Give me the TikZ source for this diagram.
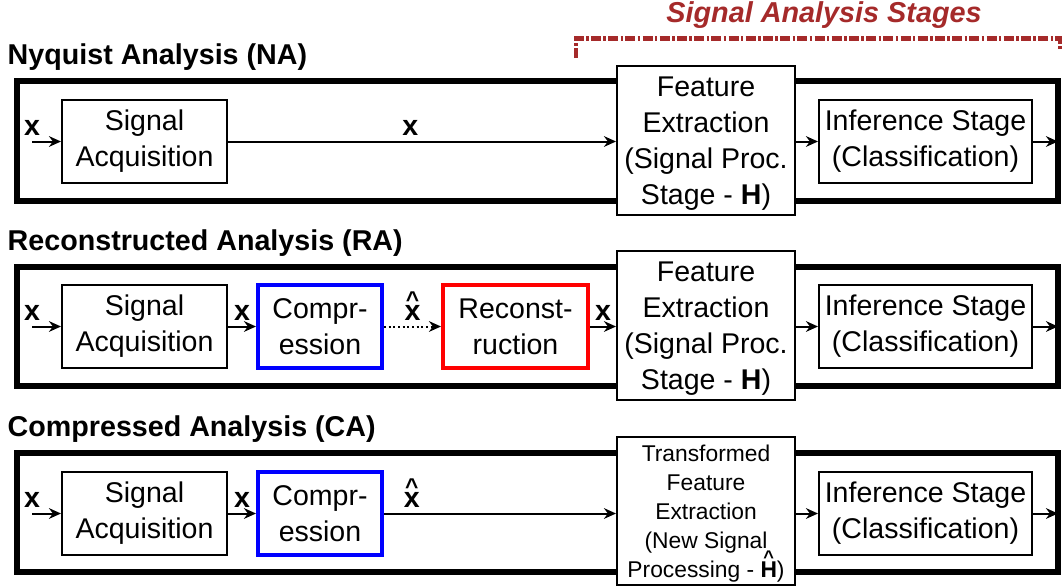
\documentclass[tikz,border=0pt]{standalone}
\usepackage{fontspec}
\setmainfont{Liberation Sans}
\usepackage{xcolor}
\usepackage{graphicx}
\usetikzlibrary{positioning,arrows.meta}
\definecolor{stagered}{HTML}{A52A2A}
\definecolor{compblue}{HTML}{0000FF}
\definecolor{recred}{HTML}{FF0000}
\newlength{\hatht}
\newcommand{\hatted}[1]{\settoheight{\hatht}{#1}\ooalign{#1\cr\hidewidth\raisebox{\dimexpr\hatht-0.09em\relax}{\scalebox{0.8}{\textasciicircum}}\hidewidth\cr}}

\begin{document}
\begin{tikzpicture}[x=0.75pt,y=-0.75pt,
    every node/.style={font=\fontsize{21.4}{27}\selectfont},
    blk/.style={draw,line width=1.5pt,fill=white,inner sep=0pt,align=center,minimum height=62.25pt},
    acqbox/.style={blk,minimum width=123.75pt},
    infbox/.style={blk,minimum width=159.75pt},
    featbox/.style={blk,minimum width=133.5pt,minimum height=111.75pt,text depth=0pt},
    compbox/.style={blk,draw=compblue,line width=3pt,minimum width=93pt},
    recbox/.style={blk,draw=recred,line width=3pt,minimum width=108.75pt},
    outerbox/.style={line width=4.5pt},
    title/.style={anchor=west,font=\fontsize{21.5}{26}\selectfont\bfseries},
    lbl/.style={font=\fontsize{21.4}{26}\selectfont\bfseries,inner sep=1pt},
    arr/.style={line width=1.5pt,-{Stealth[length=9pt,width=8pt]}}]
    \useasboundingbox (0,0) rectangle (1063,586);
    % signal analysis stages bracket
    \node[font=\fontsize{21.6}{26}\selectfont\bfseries\itshape,text=stagered] (stages) at (824,15) {Signal Analysis Stages};
    \draw[stagered,line width=3.5pt,dash pattern=on 7.5pt off 1.8pt on 1.8pt off 1.8pt] (576,58) -- (576,38.5) -- (1060,38.5) -- (1060,50);
    % Nyquist analysis
    \node[title] (tNA) at (3,57) {Nyquist Analysis (NA)};
    \draw[outerbox] (17,81) rectangle (1058,201);
    \node[acqbox] (acqNA) at (144.5,141.5) {Signal\\Acquisition};
    \node[featbox] (featNA) at (706,140.5) {Feature\\Extraction\\(Signal Proc.\\Stage - \textbf{H})};
    \node[infbox] (infNA) at (925.5,141.5) {Inference Stage\\(Classification)};
    \coordinate (inNA) at (32,141.5);
    \coordinate (outNA) at (1058,141.5);
    \draw[arr] (inNA) -- node[lbl,pos=0,above=3pt]{x} (acqNA.west);
    \draw[arr] (acqNA.east) -- node[lbl,pos=0.47,above=3pt]{x} (featNA.west |- acqNA.east);
    \draw[arr] (featNA.east |- infNA.west) -- (infNA.west);
    \draw[arr] (infNA.east) -- (outNA);
    % Reconstructed analysis
    \node[title] (tRA) at (3,243) {Reconstructed Analysis (RA)};
    \draw[outerbox] (17,267) rectangle (1058,386);
    \node[acqbox] (acqRA) at (144.5,326.5) {Signal\\Acquisition};
    \node[compbox] (compRA) at (320,326.5) {Compr-\\ession};
    \node[recbox] (recRA) at (515.5,326.5) {Reconst-\\ruction};
    \node[featbox] (featRA) at (706,325.5) {Feature\\Extraction\\(Signal Proc.\\Stage - \textbf{H})};
    \node[infbox] (infRA) at (925.5,326.5) {Inference Stage\\(Classification)};
    \coordinate (inRA) at (32,326.5);
    \coordinate (outRA) at (1058,326.5);
    \draw[arr] (inRA) -- node[lbl,pos=0,above=3pt]{x} (acqRA.west);
    \draw[arr] (acqRA.east) -- node[lbl,above=3pt]{x} (compRA.west);
    \draw[arr,dotted] (compRA.east) -- node[lbl,above=3pt]{\hatted{x}} (recRA.west);
    \draw[arr] (recRA.east) -- node[lbl,above=3pt]{x} (featRA.west |- recRA.east);
    \draw[arr] (featRA.east |- infRA.west) -- (infRA.west);
    \draw[arr] (infRA.east) -- (outRA);
    % Compressed analysis
    \node[title] (tCA) at (3,429) {Compressed Analysis (CA)};
    \draw[outerbox] (17,453) rectangle (1058,572);
    \node[acqbox] (acqCA) at (144.5,513.5) {Signal\\Acquisition};
    \node[compbox] (compCA) at (320,513.5) {Compr-\\ession};
    \node[featbox,minimum height=111pt,font=\fontsize{17.1}{21.75}\selectfont] (featCA) at (706,511) {Transformed\\Feature\\Extraction\\(New Signal\\Processing - \textbf{\hatted{H}})};
    \node[infbox] (infCA) at (925.5,513.5) {Inference Stage\\(Classification)};
    \coordinate (inCA) at (32,513.5);
    \coordinate (outCA) at (1058,513.5);
    \draw[arr] (inCA) -- node[lbl,pos=0,above=3pt]{x} (acqCA.west);
    \draw[arr] (acqCA.east) -- node[lbl,above=3pt]{x} (compCA.west);
    \draw[arr] (compCA.east) -- node[lbl,pos=0.12,above=3pt]{\hatted{x}} (featCA.west |- compCA.east);
    \draw[arr] (featCA.east |- infCA.west) -- (infCA.west);
    \draw[arr] (infCA.east) -- (outCA);
\end{tikzpicture}
\end{document}
